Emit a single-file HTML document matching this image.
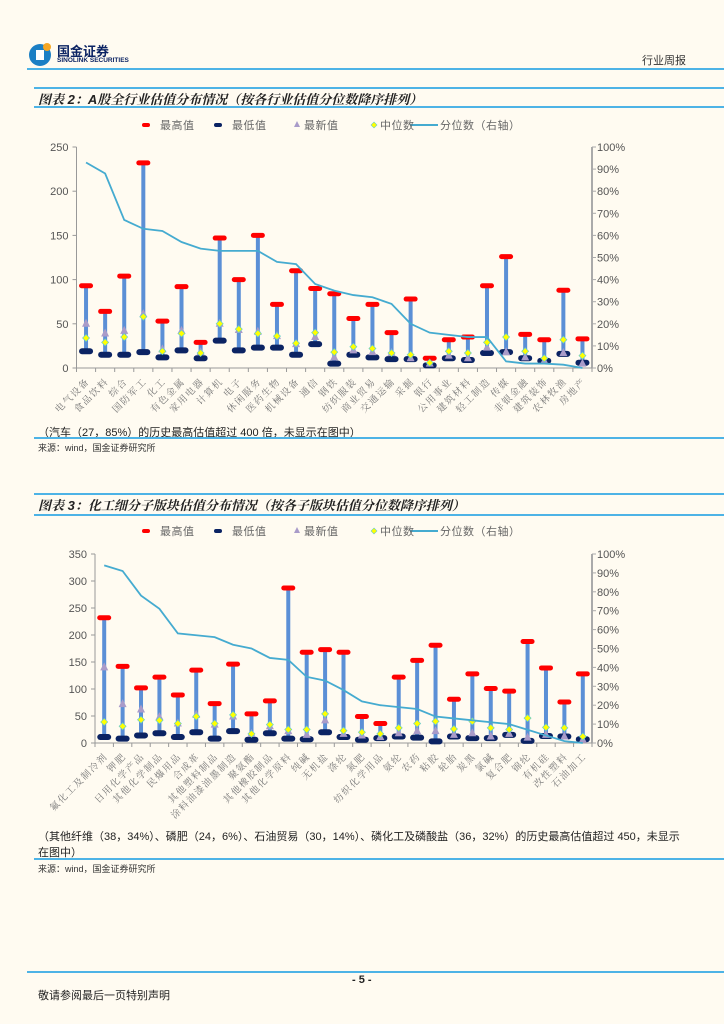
<!DOCTYPE html>
<html><head><meta charset="utf-8">
<style>
body{margin:0;width:724px;height:1024px;background:#fffbf1;position:relative;overflow:hidden;font-family:"Liberation Sans","Noto Sans CJK SC",sans-serif;color:#222}
.abs{position:absolute;white-space:nowrap}
.hl{position:absolute;height:2px;background:#4db3e6}
.title{font-style:italic;font-weight:bold;font-size:13px;font-family:"Liberation Sans","Noto Serif CJK SC",serif}
.note{font-size:11px;color:#222}
.src{font-size:9px;color:#333}
</style></head><body>
<div class="abs" style="left:28px;top:41px;width:102px;height:26px">
 <svg width="26" height="26"><circle cx="12" cy="14" r="11" fill="#1b7fc4"/><rect x="8" y="9" width="8" height="10" fill="#fff"/><circle cx="19" cy="6" r="4" fill="#f5a623"/></svg>
 <span class="abs" style="left:29px;top:0px;font-size:13px;font-weight:bold;color:#0b2363">国金证券</span>
 <span class="abs" style="left:29px;top:16px;font-size:6.5px;font-weight:bold;color:#0b2363">SINOLINK SECURITIES</span>
</div>
<div class="abs" style="left:642px;top:52px;font-size:11px;color:#333">行业周报</div>
<div class="hl" style="left:27px;top:68px;width:697px"></div>

<div class="hl" style="left:34px;top:87px;width:690px"></div>
<div class="abs title" style="left:38px;top:89px">图表 2：A股全行业估值分布情况（按各行业估值分位数降序排列）</div>
<div class="hl" style="left:34px;top:106px;width:690px"></div>

<svg id="c1" class="abs" style="left:0;top:110px" width="724" height="318"></svg>
<div class="abs note" style="left:38px;top:424px">（汽车（27，85%）的历史最高估值超过 400 倍，未显示在图中）</div>
<div class="hl" style="left:34px;top:437px;width:690px"></div>
<div class="abs src" style="left:38px;top:441px">来源：wind，国金证券研究所</div>

<div class="hl" style="left:34px;top:493px;width:690px"></div>
<div class="abs title" style="left:38px;top:495px">图表 3：化工细分子版块估值分布情况（按各子版块估值分位数降序排列）</div>
<div class="hl" style="left:34px;top:514px;width:690px"></div>

<svg id="c2" class="abs" style="left:0;top:517px" width="724" height="310"></svg>
<div class="abs note" style="left:38px;top:829px;line-height:16px">（其他纤维（38，34%）、磷肥（24，6%）、石油贸易（30，14%）、磷化工及磷酸盐（36，32%）的历史最高估值超过 450，未显示<br>在图中）</div>
<div class="hl" style="left:34px;top:858px;width:690px"></div>
<div class="abs src" style="left:38px;top:862px">来源：wind，国金证券研究所</div>

<div class="hl" style="left:27px;top:971px;width:697px"></div>
<div class="abs" style="left:352px;top:974px;font-size:11px;font-weight:bold">- 5 -</div>
<div class="abs" style="left:38px;top:987px;font-size:11px">敬请参阅最后一页特别声明</div>

<script>
const cats1=["电气设备","食品饮料","综合","国防军工","化工","有色金属","家用电器","计算机","电子","休闲服务","医药生物","机械设备","通信","钢铁","纺织服装","商业贸易","交通运输","采掘","银行","公用事业","建筑材料","轻工制造","传媒","非银金融","建筑装饰","农林牧渔","房地产"];
const max1=[93,64,104,232,53,92,29,147,100,150,72,110,90,84,56,72,40,78,11,32,35,93,126,38,32,88,33];
const min1=[19,15,15,18,12,20,11,31,20,23,23,15,27,5,15,12,10,10,3,11,9,17,18,11,8,16,6];
const latest1=[50,39,42,61,21,42,18,50,43,41,36,27,35,12,20,18,17,11,5,14,11,23,18,12,8,17,5];
const median1=[34,29,35,58,19,39,17,50,44,39,36,28,40,18,24,22,17,15,6,19,17,29,35,19,11,32,14];
const pct1=[93,88,67,63,62,57,54,53,53,53,48,47,38,35,33,32,29,20,16,15,14,14,3,2,2,1.5,0];
const ticks1=[0,50,100,150,200,250];

const cats2=["氟化工及制冷剂","钾肥","日用化学产品","其他化学制品","民爆用品","合成革","其他塑料制品","涂料油漆油墨制造","聚氨酯","其他橡胶制品","其他化学原料","纯碱","无机盐","涤纶","氮肥","纺织化学用品","氨纶","农药","粘胶","轮胎","炭黑","氯碱","复合肥","锦纶","有机硅","改性塑料","石油加工"];
const max2=[232,142,102,122,89,135,73,146,54,78,287,168,173,168,49,36,122,153,181,81,128,101,96,188,139,76,128];
const min2=[11,8,14,18,11,20,8,22,6,18,8,7,20,11,6,9,12,10,3,12,9,9,15,4,13,12,7];
const latest2=[140,72,62,48,36,52,34,49,17,31,22,15,42,17,14,11,18,22,22,15,18,12,17,10,15,12,6];
const median2=[39,31,43,42,36,49,36,52,17,34,25,25,54,23,20,17,28,36,40,26,40,28,25,46,29,28,12];
const pct2=[94,91,78,71,58,57,56,52,50,45,44,35,33,28,22,20,19,18,14,13,12,11,10,7,4,1,0];
const ticks2=[0,50,100,150,200,250,300,350];
const pctTicks=[0,10,20,30,40,50,60,70,80,90,100];

const NS="http://www.w3.org/2000/svg";
function mk(svg,tag,attrs){const e=document.createElementNS(NS,tag);for(const k in attrs)e.setAttribute(k,attrs[k]);svg.appendChild(e);return e;}
function chart(svg,cats,mx,mn,lt,md,pc,ticks,L,R,T,B,legY,lblSize){
  const vmax=ticks[ticks.length-1];
  const y=v=>B-(v/vmax)*(B-T);
  const yp=p=>B-(p/100)*(B-T);
  const bw=(R-L)/cats.length;
  const x=i=>L+bw*(i+0.5);
  let r=mk(svg,'rect',{x:142,y:legY-2,width:8,height:4,rx:2,fill:'#f00'});
  r=mk(svg,'rect',{x:214,y:legY-2,width:8,height:4,rx:2,fill:'#0b2363'});
  r=mk(svg,'path',{d:`M${297},${legY-4} L${300},${legY+2} L${294},${legY+2} Z`,fill:'#a99bc9'});
  r=mk(svg,'path',{d:`M${374},${legY-3} L${377},${legY} L${374},${legY+3} L${371},${legY} Z`,fill:'#ff0',stroke:'#6cc',"stroke-width":0.6});
  r=mk(svg,'line',{x1:410,y1:legY,x2:438,y2:legY,stroke:'#45abd0','stroke-width':2});
  const lt2=[[160,'最高值'],[232,'最低值'],[304,'最新值'],[380,'中位数'],[440,'分位数（右轴）']];
  lt2.forEach(([lx,t])=>{const e=mk(svg,'text',{x:lx,y:legY+4,'font-size':11,fill:'#666','letter-spacing':'0.5'});e.textContent=t;});
  let a=mk(svg,'line',{x1:L,y1:T,x2:L,y2:B,stroke:'#999','stroke-width':1});
  a=mk(svg,'line',{x1:R,y1:T,x2:R,y2:B,stroke:'#aaa','stroke-width':2});
  a=mk(svg,'line',{x1:L,y1:B,x2:R,y2:B,stroke:'#999','stroke-width':1});
  ticks.forEach(t=>{mk(svg,'line',{x1:L-4,y1:y(t),x2:L,y2:y(t),stroke:'#999'});const e=mk(svg,'text',{x:L-8,y:y(t)+4,'font-size':11,fill:'#555','text-anchor':'end'});e.textContent=t;});
  pctTicks.forEach(t=>{mk(svg,'line',{x1:R,y1:yp(t),x2:R+4,y2:yp(t),stroke:'#aaa'});const e=mk(svg,'text',{x:R+5,y:yp(t)+4,'font-size':11,fill:'#555'});e.textContent=t+'%';});
  for(let i=0;i<=cats.length;i++)mk(svg,'line',{x1:L+bw*i,y1:B,x2:L+bw*i,y2:B+4,stroke:'#999'});
  cats.forEach((c,i)=>{
    const s=mk(svg,'line',{x1:x(i),y1:y(mx[i]),x2:x(i),y2:y(mn[i]),stroke:'#5b8fd6','stroke-width':4});
    
    const h=mk(svg,'rect',{x:x(i)-7,y:y(mx[i])-2.5,width:14,height:5,rx:2.5,fill:'#f00'});
    
    const lo=mk(svg,'rect',{x:x(i)-7,y:y(mn[i])-3,width:14,height:6,rx:3,fill:'#0b2363'});
    
    const ty=y(lt[i]);
    const tr=mk(svg,'path',{d:`M${x(i)},${ty-5} L${x(i)+4},${ty+3} L${x(i)-4},${ty+3} Z`,fill:'#a99bc9'});
    
    const my=y(md[i]);
    const dm=mk(svg,'path',{d:`M${x(i)},${my-3.5} L${x(i)+3.5},${my} L${x(i)},${my+3.5} L${x(i)-3.5},${my} Z`,fill:'#ff0',stroke:'#6cc','stroke-width':0.7});
    
    const lx=x(i)+4, ly=B+14;
    const lbl=mk(svg,'text',{x:lx,y:ly,'font-size':lblSize,fill:'#777','letter-spacing':'1.5','text-anchor':'end',transform:`rotate(-45 ${lx} ${ly})`,'font-family':'"Liberation Serif","Noto Serif CJK SC",serif'});
    lbl.textContent=c;
  });
  const pl=mk(svg,'polyline',{points:pc.map((p,i)=>x(i)+','+yp(p)).join(' '),fill:'none',stroke:'#45abd0','stroke-width':1.8});
  
}
chart(document.getElementById('c1'),cats1,max1,min1,latest1,median1,pct1,ticks1,76.5,592,37,258,15,9.5);
chart(document.getElementById('c2'),cats2,max2,min2,latest2,median2,pct2,ticks2,95,592,37,226,14,9.5);
</script>
</body></html>
